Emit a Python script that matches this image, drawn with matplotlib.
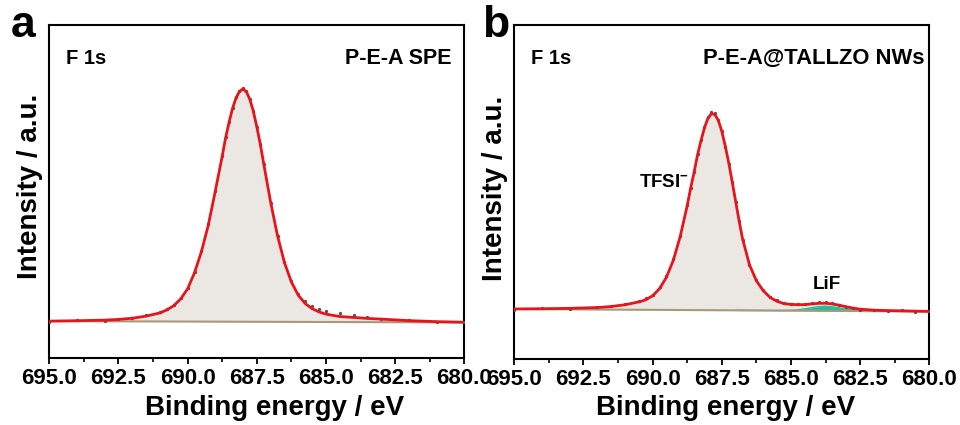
import matplotlib
matplotlib.use('Agg')
import matplotlib.pyplot as plt
import numpy as np

plt.rcParams['font.family'] = ['Liberation Sans', 'DejaVu Sans']
plt.rcParams['font.weight'] = 'bold'
plt.rcParams['mathtext.default'] = 'regular'

# Panel a: energia de enlace (eV), envolvente del ajuste y datos medidos
energia_a = [695.0, 694.0, 693.0, 692.5, 692.0, 691.5, 691.0, 690.75, 690.5, 690.25,
             690.0, 689.75, 689.5, 689.25, 689.0, 688.75, 688.625, 688.5, 688.375, 688.25,
             688.125, 688.0, 687.875, 687.75, 687.625, 687.5, 687.375, 687.25, 687.0, 686.75,
             686.5, 686.25, 686.0, 685.75, 685.5, 685.25, 685.0, 684.5, 684.0, 683.5,
             683.0, 682.0, 681.0, 680.0]
ajuste_a = [37.3, 37.7, 38.3, 39.0, 40.2, 42.3, 45.5, 48.5, 52.7, 59.5,
            69.5, 85.6, 106.6, 133.3, 166.9, 201.8, 220.4, 236.0, 249.7, 260.1,
            266.6, 269.2, 266.4, 258.7, 247.1, 231.5, 214.5, 194.7, 156.3, 122.6,
            95.9, 76.5, 63.2, 54.9, 49.8, 46.5, 44.3, 41.9, 41.0, 40.0,
            39.3, 37.8, 36.8, 36.2]
crudo_a = [36.8, 38.3, 37.6, 39.5, 40.8, 43.2, 46.5, 49.5, 53.5, 60.5,
           70.5, 86.5, 107.5, 134.0, 167.5, 202.5, 221.0, 236.5, 250.5, 261.0,
           267.5, 270.0, 267.0, 259.5, 247.5, 231.0, 214.0, 194.0, 155.5, 122.0,
           96.5, 77.5, 64.5, 57.0, 52.5, 49.5, 47.5, 45.0, 43.5, 41.5,
           39.0, 38.5, 36.2, 36.8]
fondo_a = [37.3, 36.0]  # fondo lineal en 695 y 680 eV

# Panel b: envolvente, datos medidos y componente LiF (sobre el fondo)
energia_b = [695.0, 694.0, 693.0, 692.0, 691.5, 691.0, 690.5, 690.25, 690.0, 689.75,
             689.5, 689.25, 689.0, 688.75, 688.625, 688.5, 688.375, 688.25, 688.125, 688.0,
             687.875, 687.75, 687.625, 687.5, 687.375, 687.25, 687.125, 687.0, 686.875, 686.75,
             686.5, 686.25, 686.0, 685.75, 685.5, 685.25, 685.0, 684.75, 684.5, 684.25,
             684.0, 683.75, 683.5, 683.25, 683.0, 682.75, 682.5, 682.0, 681.5, 681.0,
             680.5, 680.0]
ajuste_b = [49.8, 50.0, 50.4, 51.2, 52.2, 54.0, 56.8, 58.9, 63.0, 70.0,
            81.5, 98.5, 122.4, 152.8, 170.5, 186.3, 203.8, 218.0, 230.8, 240.2,
            244.7, 244.0, 238.1, 227.3, 212.6, 195.9, 177.1, 157.5, 138.0, 120.0,
            94.0, 78.0, 68.0, 61.2, 57.4, 55.1, 54.35, 54.05, 54.15, 54.8,
            55.4, 55.5, 54.8, 53.5, 52.0, 50.6, 49.6, 48.6, 48.2, 47.9,
            47.6, 47.4]
crudo_b = [49.2, 50.6, 49.8, 51.8, 52.9, 55.0, 58.0, 60.3, 64.0, 71.5,
           82.5, 99.5, 123.0, 153.5, 171.0, 187.0, 204.5, 219.0, 231.5, 241.5,
           246.0, 245.0, 238.5, 227.0, 212.0, 195.0, 176.5, 157.0, 137.5, 119.0,
           93.5, 78.5, 69.0, 62.0, 58.5, 56.0, 55.0, 54.9, 54.6, 55.6,
           56.3, 56.5, 55.3, 53.8, 51.6, 50.9, 49.2, 49.0, 47.7, 48.3,
           46.9, 47.6]
lif_b = [0, 0, 0, 0, 0, 0, 0, 0, 0, 0,
         0, 0, 0, 0, 0, 0, 0, 0, 0, 0,
         0, 0, 0, 0, 0, 0, 0, 0, 0, 0,
         0, 0, 0, 0.02, 0.05, 0.11, 0.35, 0.89, 1.83, 3.05,
         4.15, 4.6, 4.15, 3.05, 1.83, 0.89, 0.35, 0.02, 0, 0,
         0, 0]
fondo_b = [49.7, 47.3]

rojo = '#e8141c'
gris_relleno = '#ebe8e4'
marron = '#ab9877'
verde = '#1fbf9a'

fig = plt.figure(figsize=(9.6, 4.25), dpi=100)
ax_a = fig.add_axes([0.0513, 0.1565, 0.4323, 0.7847])
ax_b = fig.add_axes([0.5357, 0.1557, 0.4323, 0.7847])


def dibujar_panel(ax, energia, ajuste, crudo, fondo, lif=None):
    e = np.array(energia)
    fondo_linea = np.interp(e, [680.0, 695.0], [fondo[1], fondo[0]])
    ax.fill_between(e, fondo_linea, ajuste, color=gris_relleno, lw=0, zorder=1)
    if lif is not None:
        comp = fondo_linea + np.array(lif)
        ax.fill_between(e, fondo_linea, comp, color=verde, lw=0, zorder=2)
        sel = (e <= 687.0) & (e >= 681.5)
        ax.plot(e[sel], comp[sel], color=verde, lw=1.0, zorder=3)
    ax.plot(e, fondo_linea, color=marron, lw=1.5, zorder=3)
    ax.plot(e, crudo, 'o', color='#555555', ms=2.4, mew=0, zorder=4)
    ax.plot(e, ajuste, color=rojo, lw=2.0, zorder=5)

    ax.set_xlim(695, 680)
    ax.set_ylim(0, 333)
    ax.set_xticks([695.0, 692.5, 690.0, 687.5, 685.0, 682.5, 680.0])
    ax.set_xticks(np.arange(680, 695.1, 1.25), minor=True)
    ax.xaxis.set_major_formatter(matplotlib.ticker.FormatStrFormatter('%.1f'))
    ax.set_yticks([])
    ax.tick_params(axis='x', which='major', direction='out', length=4, width=1.3,
                   labelsize=16, pad=3)
    ax.tick_params(axis='x', which='minor', direction='out', length=3, width=1.2)
    for sp in ax.spines.values():
        sp.set_linewidth(1.5)
    for lab in ax.get_xticklabels():
        lab.set_fontweight('bold')
    ax.set_xlabel('Binding energy / eV', fontsize=20, fontweight='bold')
    ax.set_ylabel('Intensity / a.u.', fontsize=20, fontweight='bold')
    ax.text(0.04, 0.90, 'F 1s', transform=ax.transAxes, fontsize=14.5, fontweight='bold',
            va='center', ha='left')


dibujar_panel(ax_a, energia_a, ajuste_a, crudo_a, fondo_a)
dibujar_panel(ax_b, energia_b, ajuste_b, crudo_b, fondo_b, lif_b)

# posiciones de las etiquetas de los ejes como en la figura original
ax_a.xaxis.set_label_coords(0.542, -0.108)
ax_b.xaxis.set_label_coords(0.51, -0.108)
ax_a.yaxis.set_label_coords(-0.015, 0.517)
ax_b.yaxis.set_label_coords(-0.015, 0.51)

ax_a.text(0.97, 0.90, 'P-E-A SPE', transform=ax_a.transAxes, fontsize=15.5,
          fontweight='bold', va='center', ha='right')
ax_b.text(0.988, 0.90, 'P-E-A@TALLZO NWs', transform=ax_b.transAxes, fontsize=15.8,
          fontweight='bold', va='center', ha='right')
ax_b.text(689.6, 176, 'TFSI$^{-}$', fontsize=13.5, fontweight='bold', ha='center', va='center')
ax_b.text(683.7, 74, 'LiF', fontsize=13.5, fontweight='bold', ha='center', va='center')

fig.text(0.011, 0.913, 'a', fontsize=32, fontweight='bold', va='baseline', ha='left')
fig.text(0.502, 0.913, 'b', fontsize=32, fontweight='bold', va='baseline', ha='left')

fig.savefig('out.png', dpi=100)
plt.close(fig)
